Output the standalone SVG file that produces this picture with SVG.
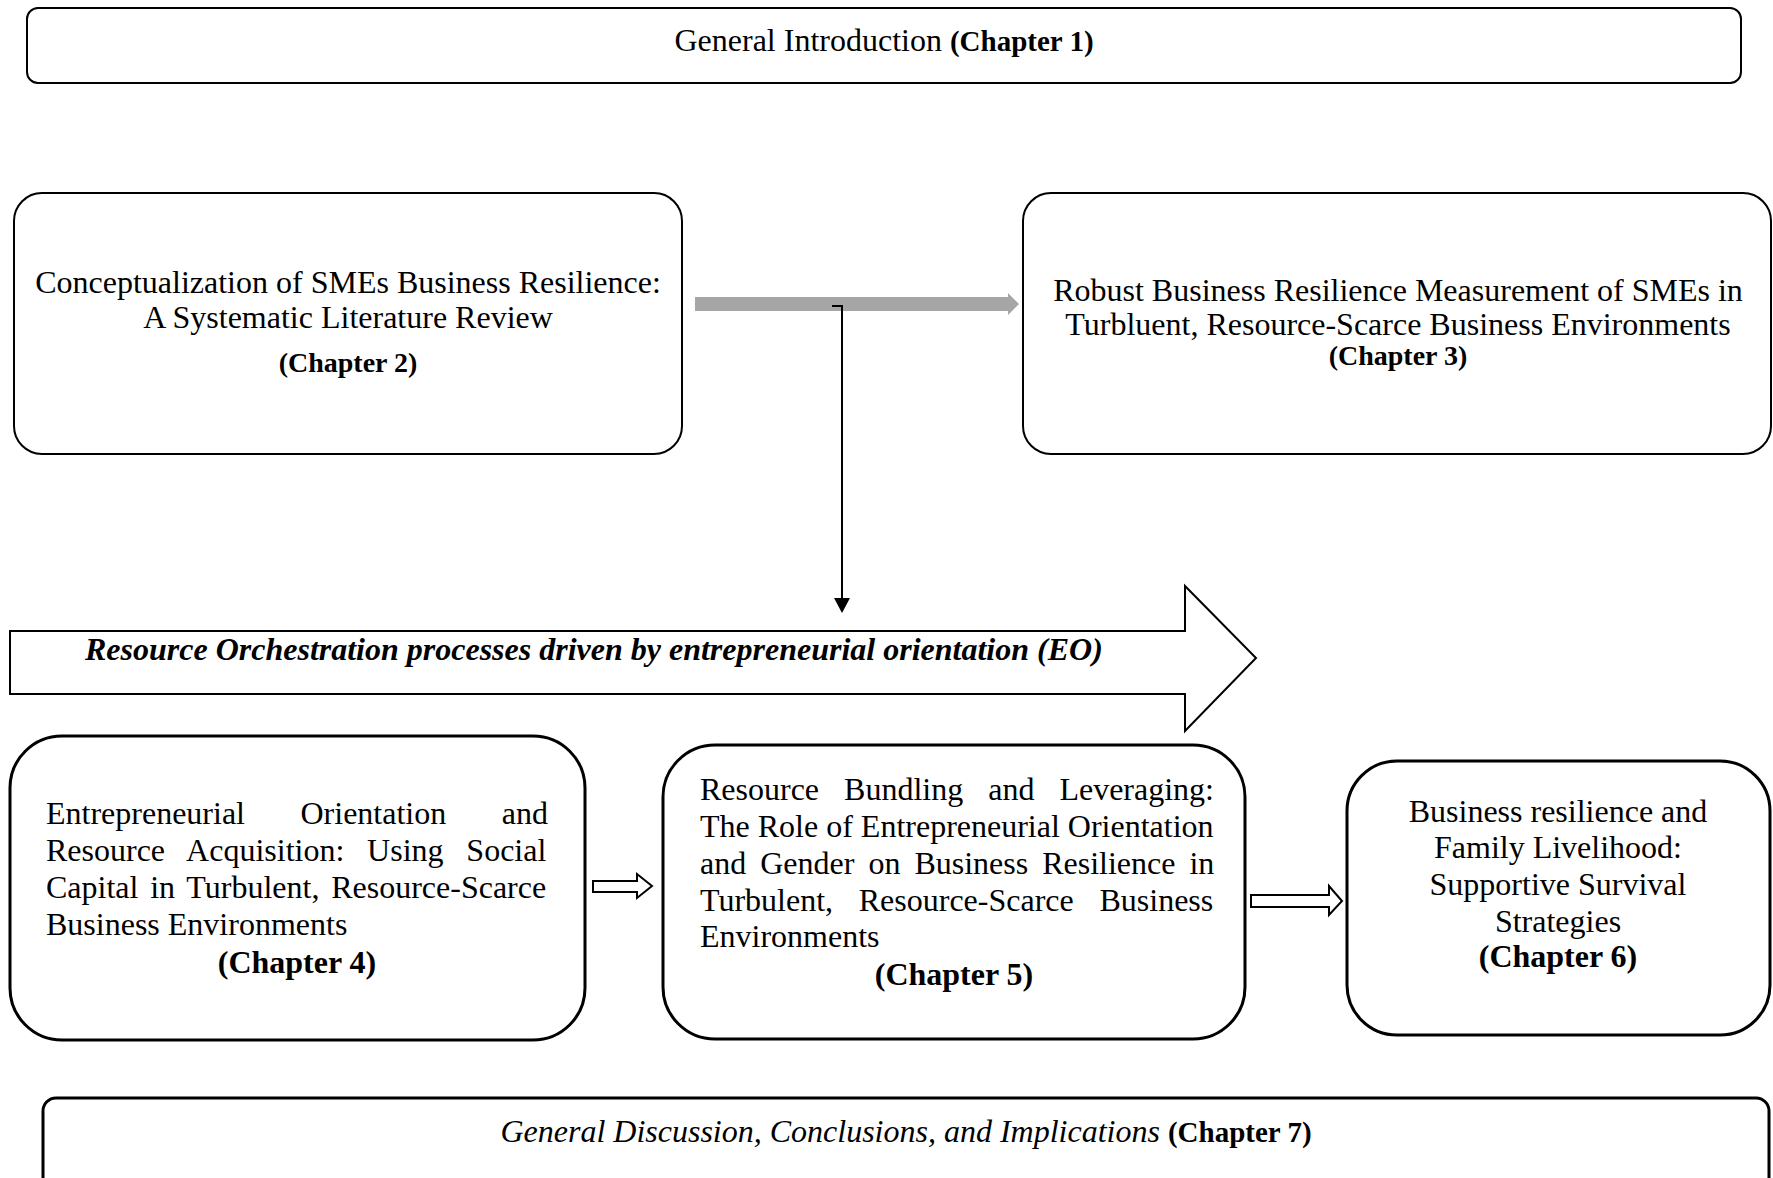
<svg xmlns="http://www.w3.org/2000/svg" width="1773" height="1178" viewBox="0 0 1773 1178">
<style>
text{font-family:"Liberation Serif","Times New Roman",serif;font-size:32px;fill:#000}
.b{font-weight:bold}
.ch{font-weight:bold;font-size:28px}
.box{fill:#fff;stroke:#000;stroke-width:2}
.box3{fill:#fff;stroke:#000;stroke-width:3}
.mid{text-anchor:middle}
</style>
<rect width="1773" height="1178" fill="#fff"/>

<g id="connectors">
<path d="M695,297 H1008 V293 L1019,304 L1008,315 V311 H695 Z" fill="#a6a6a6"/>
<path d="M832,306 H842 V599" fill="none" stroke="#000" stroke-width="2"/>
<path d="M834,598 L850,598 L842,613 Z" fill="#000"/>
<path d="M593,881 H637 V874 L652,886 L637,898 V892 H593 Z" fill="#fff" stroke="#000" stroke-width="2"/>
<path d="M1251,895 H1329 V886 L1342,901 L1329,915 V907 H1251 Z" fill="#fff" stroke="#000" stroke-width="2"/>
</g>

<g id="ch1">
<rect class="box" x="27" y="8" width="1714" height="75" rx="11"/>
<text x="884" y="51" class="mid">General Introduction <tspan class="b" font-size="29">(Chapter 1)</tspan></text>
</g>

<g id="ch2">
<rect class="box" x="14" y="193" width="668" height="261" rx="28"/>
<text x="348" y="293" class="mid">Conceptualization of SMEs Business Resilience:</text>
<text x="348" y="328" class="mid">A Systematic Literature Review</text>
<text x="348" y="372" class="mid ch">(Chapter 2)</text>
</g>

<g id="ch3">
<rect class="box" x="1023" y="193" width="748" height="261" rx="28"/>
<text x="1398" y="301" class="mid">Robust Business Resilience Measurement of SMEs in</text>
<text x="1398" y="335" class="mid">Turbluent, Resource-Scarce Business Environments</text>
<text x="1398" y="365" class="mid ch">(Chapter 3)</text>
</g>

<g id="orchestration">
<path d="M10,631 H1185 V586 L1256,658 L1185,731 V694 H10 Z" fill="#fff" stroke="#000" stroke-width="2"/>
<text x="85" y="660" class="b" font-style="italic">Resource Orchestration processes driven by entrepreneurial orientation (EO)</text>
</g>

<g id="ch4">
<rect class="box3" x="10" y="736" width="575" height="304" rx="52"/>
<text x="46" y="824" word-spacing="47.5">Entrepreneurial Orientation and</text>
<text x="46" y="861" word-spacing="14.8">Resource Acquisition: Using Social</text>
<text x="46" y="898" word-spacing="3.8">Capital in Turbulent, Resource-Scarce</text>
<text x="46" y="935">Business Environments</text>
<text x="297" y="973" class="mid b">(Chapter 4)</text>
</g>

<g id="ch5">
<rect class="box3" x="663" y="745" width="582" height="294" rx="52"/>
<text x="700" y="800" font-size="31.5" word-spacing="17">Resource Bundling and Leveraging:</text>
<text x="700" y="837" font-size="31.5" word-spacing="0">The Role of Entrepreneurial Orientation</text>
<text x="700" y="874" font-size="31.5" word-spacing="6">and Gender on Business Resilience in</text>
<text x="700" y="911" font-size="31.5" word-spacing="17.7">Turbulent, Resource-Scarce Business</text>
<text x="700" y="947" font-size="31.5">Environments</text>
<text x="954" y="985" class="mid b" font-size="29">(Chapter 5)</text>
</g>

<g id="ch6">
<rect class="box3" x="1347" y="761" width="423" height="274" rx="50"/>
<text x="1558" y="822" class="mid">Business resilience and</text>
<text x="1558" y="858" class="mid">Family Livelihood:</text>
<text x="1558" y="895" class="mid">Supportive Survival</text>
<text x="1558" y="932" class="mid">Strategies</text>
<text x="1558" y="967" class="mid b" font-size="29">(Chapter 6)</text>
</g>

<g id="ch7">
<rect class="box3" x="43" y="1098" width="1726" height="100" rx="13"/>
<text x="906" y="1142" class="mid"><tspan font-style="italic">General Discussion, Conclusions, and Implications</tspan> <tspan class="b" font-size="29">(Chapter 7)</tspan></text>
</g>
</svg>
